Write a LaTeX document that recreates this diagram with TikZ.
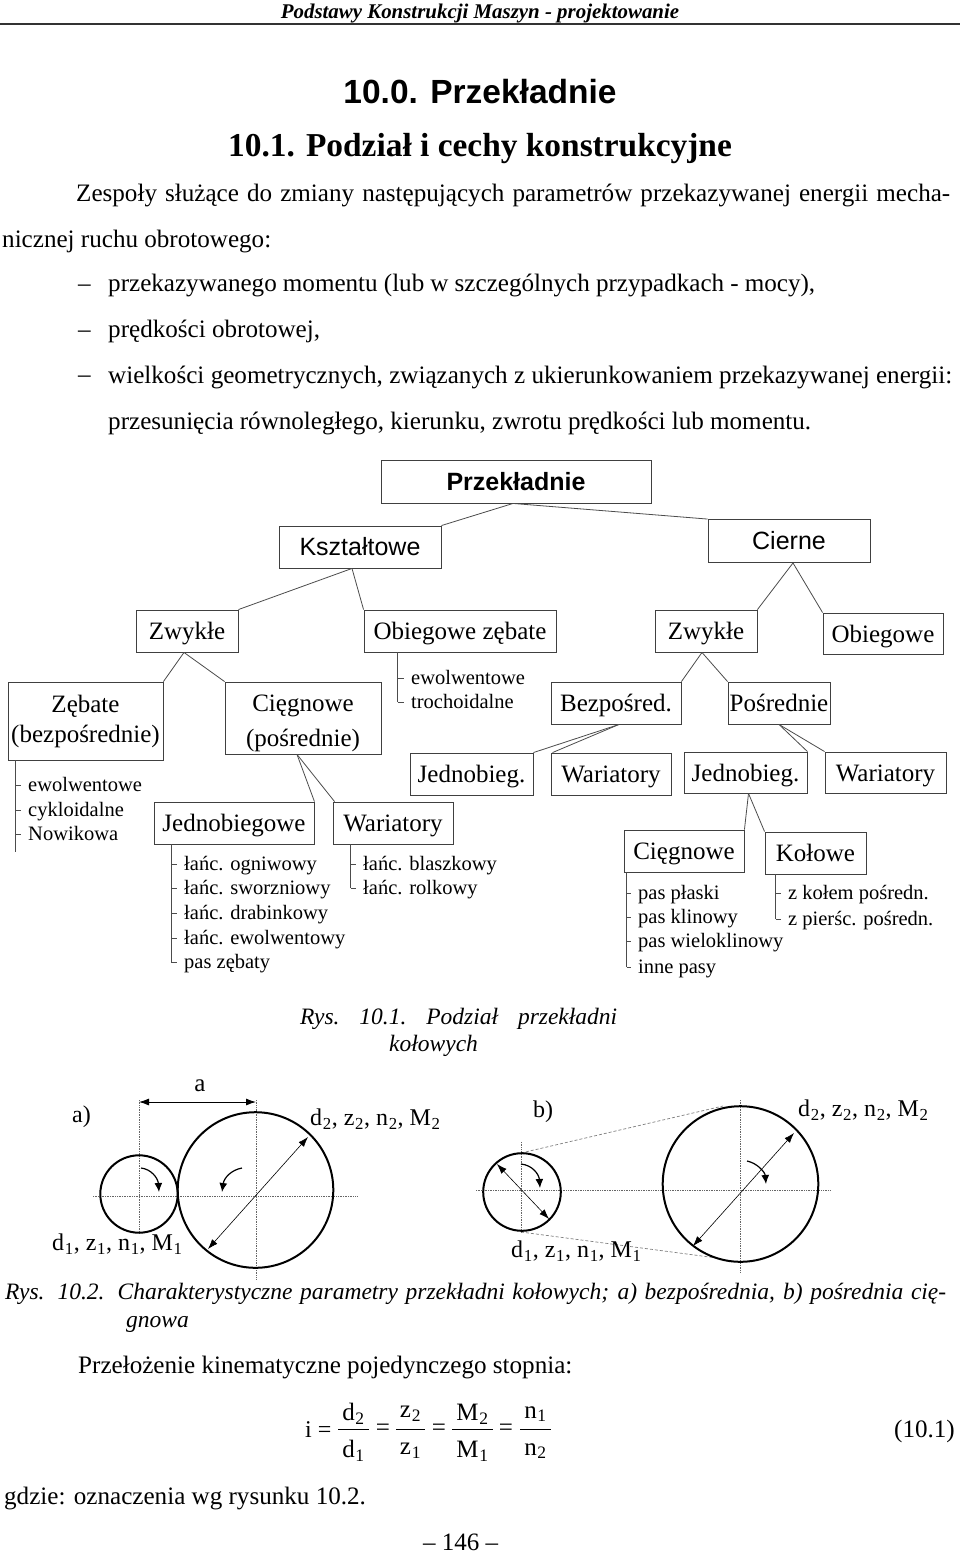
\documentclass[tikz,border=0pt]{standalone}
\usepackage{fontspec}
\setmainfont{Liberation Serif}
\newfontfamily\arialfont{Liberation Sans}
\usetikzlibrary{calc,positioning,arrows.meta}

\tikzset{
  boxnode/.style={draw=black!75,line width=0.9pt,inner sep=0pt,align=center,font=\fontsize{25}{30}\selectfont},
  rowbox/.style={boxnode,text height=21pt,text depth=4pt},
  sansnode/.style={boxnode,font=\arialfont\fontsize{25}{30}\selectfont},
  listitem/.style={inner sep=0pt,font=\fontsize{20.5}{24}\selectfont},
  bodyline/.style={inner sep=0pt,anchor=mid west,yshift=-5pt,font=\fontsize{25.1}{29}\selectfont},
  capline/.style={bodyline,font=\itshape\fontsize{23.5}{28}\selectfont},
  link/.style={draw=black!70,line width=0.8pt},
  wheel/.style={line width=2pt},
  axisline/.style={draw=black!60,line width=0.7pt,densely dotted},
  beltline/.style={draw=black!50,line width=0.7pt,densely dashed},
  sizeline/.style={line width=0.6pt,{Latex[length=10pt,width=7pt]}-{Latex[length=10pt,width=7pt]}},
  turnline/.style={line width=1.2pt,-{Latex[length=9pt,width=8pt]}},
  paramlabel/.style={inner sep=0pt,anchor=mid west,yshift=-5pt,font=\fontsize{24}{28}\selectfont},
  paramtext/.style={inner sep=0pt,font=\fontsize{25}{29}\selectfont}
}
% trunk and ticks below a box: box, offset, text x, end y, rows
\newcommand{\branch}[5]{
  \coordinate (#1top) at ([xshift=#2pt]#1.south west);
  \coordinate (#1end) at (#1top |- 0,#4);
  \draw[link] (#1top)--(#1end);
  \foreach \y/\lab [count=\i] in {#5}{
    \node[listitem,anchor=base west] (#1row\i) at ([yshift=-6.5pt]#3,\y) {\lab};
    \coordinate (#1tick\i) at ([xshift=-7pt,yshift=6.5pt]#1row\i.base west);
    \draw[link] (#1top |- #1tick\i)--(#1tick\i);
  }
}
\newcommand{\sbt}[1]{\kern0.7pt\textsubscript{#1}}

\begin{document}
\begin{tikzpicture}[x=1pt,y=-1pt,>=Latex]
  \useasboundingbox (0,0) rectangle (960,1553);
  \fill[white] (0,0) rectangle (960,1553);

  % page head
  \node[inner sep=0pt,font=\bfseries\itshape\fontsize{20.9}{24}\selectfont] (headline) at (480,14) {Podstawy Konstrukcji Maszyn - projektowanie};
  \coordinate (ruleleft) at (0,24);
  \coordinate (ruleright) at (960,24);
  \draw[line width=1.2pt,black!80] (ruleleft)--(ruleright);
  \node[inner sep=0pt,font=\arialfont\bfseries\fontsize{33.5}{38}\selectfont] (chapter) at (480,92) {10.0. Przekładnie};
  \node[inner sep=0pt,font=\bfseries\fontsize{33.4}{38}\selectfont] (section) at (480,149) {10.1. Podział i cechy konstrukcyjne};

  % text above the tree
  \node[bodyline] (par1) at (76,194) {\makebox[874pt][s]{Zespoły służące do zmiany następujących parametrów przekazywanej energii mecha-}};
  \node[bodyline] (par2) at (2,240) {nicznej ruchu obrotowego:};
  \foreach \y in {284,330,375}{
    \node[bodyline] (dash\y) at (78,\y) {–};
  }
  \node[bodyline] (item1) at (108,284) {\makebox[707pt][s]{przekazywanego momentu (lub w szczególnych przypadkach - mocy),}};
  \node[bodyline] (item2) at (108,330) {prędkości obrotowej,};
  \node[bodyline] (item3) at (108,376) {\makebox[844pt][s]{wielkości geometrycznych, związanych z ukierunkowaniem przekazywanej energii:}};
  \node[bodyline] (item4) at (108,422) {\makebox[703pt][s]{przesunięcia równoległego, kierunku, zwrotu prędkości lub momentu.}};

  % tree boxes
  \node[sansnode,font=\arialfont\bfseries\fontsize{25}{30}\selectfont,minimum width=270pt,minimum height=43pt] (przek) at (516,481.5) {Przekładnie};
  \node[sansnode,minimum width=162pt,minimum height=42pt] (ksztalt) at (360,547) {Kształtowe};
  \node[sansnode,minimum width=162pt,minimum height=43pt] (cierne) at (789,541) {Cierne};
  \node[rowbox,minimum width=102pt,minimum height=42pt] (zwyklel) at (187,631) {Zwykłe};
  \node[rowbox,minimum width=192pt,minimum height=42pt] (obiegzeb) at (460,631) {Obiegowe zębate};
  \node[rowbox,minimum width=102pt,minimum height=42pt] (zwykler) at (706,631) {Zwykłe};
  \node[rowbox,minimum width=120pt,minimum height=41pt] (obieg) at (883,633.5) {Obiegowe};
  \node[boxnode,minimum width=155pt,minimum height=78pt] (zebate) at (85.5,721) {Zębate\\(bezpośrednie)};
  \node[boxnode,font=\fontsize{25}{35}\selectfont,minimum width=156pt,minimum height=72pt] (ciegl) at (303,718) {\rule{0pt}{27pt}Cięgnowe\\(pośrednie)};
  \node[rowbox,minimum width=130pt,minimum height=42pt] (bezp) at (616,703) {Bezpośred.};
  \node[rowbox,minimum width=102pt,minimum height=42pt] (posr) at (779,703) {Pośrednie};
  \node[rowbox,minimum width=123pt,minimum height=42pt] (jedl) at (471.5,774) {Jednobieg.};
  \node[rowbox,minimum width=120pt,minimum height=42pt] (warm) at (611,774) {Wariatory};
  \node[rowbox,minimum width=123pt,minimum height=41pt] (jedr) at (745.5,772.5) {Jednobieg.};
  \node[rowbox,minimum width=121pt,minimum height=41pt] (warr) at (885.5,772.5) {Wariatory};
  \node[rowbox,minimum width=160pt,minimum height=42pt] (jedbg) at (234,823) {Jednobiegowe};
  \node[rowbox,minimum width=120pt,minimum height=42pt] (warl) at (393,823) {Wariatory};
  \node[rowbox,minimum width=120pt,minimum height=42pt] (ciegr) at (684,851) {Cięgnowe};
  \node[rowbox,minimum width=101pt,minimum height=42pt] (kol) at (815.5,853) {Kołowe};

  % tree links
  \draw[link] ([xshift=-3pt]przek.south)--(ksztalt.north east);
  \draw[link] ([xshift=-3pt]przek.south)--(cierne.north west);
  \draw[link] ([xshift=-8pt]ksztalt.south)--(zwyklel.north east);
  \draw[link] ([xshift=-8pt]ksztalt.south)--(obiegzeb.north west);
  \draw[link] ([xshift=4pt]cierne.south)--(zwykler.north east);
  \draw[link] ([xshift=4pt]cierne.south)--(obieg.north west);
  \draw[link] ([xshift=-3pt]zwyklel.south)--(zebate.north east);
  \draw[link] ([xshift=-3pt]zwyklel.south)--(ciegl.north west);
  \draw[link] ([xshift=-4pt]zwykler.south)--(bezp.north east);
  \draw[link] ([xshift=-4pt]zwykler.south)--(posr.north west);
  \draw[link] ([xshift=3pt]bezp.south)--(jedl.north east);
  \draw[link] ([xshift=3pt]bezp.south)--([xshift=2pt]warm.north west);
  \draw[link] (posr.south)--(jedr.north east);
  \draw[link] (posr.south)--(warr.north west);
  \draw[link] ([xshift=-6pt]ciegl.south)--(jedbg.north east);
  \draw[link] ([xshift=-6pt]ciegl.south)--([xshift=2pt]warl.north west);
  \draw[link] ([xshift=3pt]jedr.south)--(ciegr.north east);
  \draw[link] ([xshift=3pt]jedr.south)--(kol.north west);

  % lists under the boxes
  \branch{zebate}{7.5}{28}{852}{785/ewolwentowe,810/cykloidalne,834/Nowikowa}
  \branch{obiegzeb}{34}{411}{702}{678/ewolwentowe,702/trochoidalne}
  \branch{jedbg}{17.5}{184}{962}{864/łańc. ogniwowy,888/łańc. sworzniowy,913/łańc. drabinkowy,938/łańc. ewolwentowy,962/pas zębaty}
  \branch{warl}{18}{363}{888}{864/łańc. blaszkowy,888/łańc. rolkowy}
  \branch{ciegr}{3}{638}{967}{893/pas płaski,917/pas klinowy,941/pas wieloklinowy,967/inne pasy}
  \branch{kol}{11}{788}{919}{893/z kołem pośredn.,919/z pierśc. pośredn.}

  % caption of the tree
  \node[capline] (cap1) at (300,1017) {\makebox[317pt][s]{\spaceskip=23pt plus 5pt minus 5pt\frenchspacing Rys. 10.1. Podział przekładni}};
  \node[capline] (cap2) at (389,1044) {kołowych};

  % pair a)
  \node[paramlabel] (laba) at (72,1115) {a)};
  \coordinate (ca1) at (139,1194);
  \coordinate (ca2) at (255.5,1190);
  \draw[axisline] (93,1196)--(357,1196);
  \draw[axisline] (139,1100)--(139,1233);
  \draw[axisline] (256,1100)--(256,1280);
  \draw[wheel] (ca1) circle (38.7);
  \draw[wheel] (ca2) circle (77.8);
  \coordinate (dima1) at (139,1102);
  \coordinate (dima2) at (256,1102);
  \draw[sizeline,line width=0.9pt] (dima1)--(dima2);
  \node[paramtext] (laba2) at (200,1086) {a};
  \draw[sizeline] (308,1137)--(208,1249);
  \draw[turnline] (141,1168) .. controls (151,1169) and (158,1178) .. (159,1192);
  \draw[turnline] (242,1168) .. controls (231,1170) and (224,1178) .. (222,1192);
  \node[paramlabel] (para2) at (310,1118) {d\sbt{2}, z\sbt{2}, n\sbt{2}, M\sbt{2}};
  \node[paramlabel] (para1) at (52,1243) {d\sbt{1}, z\sbt{1}, n\sbt{1}, M\sbt{1}};

  % pair b)
  \node[paramlabel] (labb) at (533,1110) {b)};
  \coordinate (cb1) at (522,1192);
  \coordinate (cb2) at (740.5,1184);
  \draw[axisline] (476,1190)--(831,1190);
  \draw[axisline] (521,1142)--(521,1233);
  \draw[axisline] (740,1100)--(740,1273);
  \draw[beltline] (521,1153)--(723,1106);
  \draw[beltline] (521,1232)--(717,1258);
  \draw[wheel] (cb1) circle (38.8);
  \draw[wheel] (cb2) circle (77.8);
  \draw[sizeline] (497,1164)--(549,1219);
  \draw[sizeline] (794,1133)--(693,1246);
  \draw[turnline] (521,1164) .. controls (532,1165) and (539,1174) .. (540,1188);
  \draw[turnline] (747,1161) .. controls (757,1163) and (765,1172) .. (766,1184);
  \node[paramlabel] (parb2) at (798,1109) {d\sbt{2}, z\sbt{2}, n\sbt{2}, M\sbt{2}};
  \node[paramlabel] (parb1) at (511,1250) {d\sbt{1}, z\sbt{1}, n\sbt{1}, M\sbt{1}};

  % lower text
  \node[capline] (cap3) at (5,1292) {\makebox[941pt][s]{Rys. 10.2. Charakterystyczne parametry przekładni kołowych; a) bezpośrednia, b) pośrednia cię-}};
  \node[capline] (cap4) at (126,1320) {gnowa};
  \node[bodyline] (ratio) at (78,1366) {Przełożenie kinematyczne pojedynczego stopnia:};

  % equation
  \node[paramlabel] (eqi) at (305,1430) {i =};
  \foreach \x/\w/\up/\dn [count=\i] in {353.5/15.5/d\sbt{2}/d\sbt{1},410.5/14.5/z\sbt{2}/z\sbt{1},472.5/20.5/M\sbt{2}/M\sbt{1},535.5/15.5/n\sbt{1}/n\sbt{2}}{
    \coordinate (barl\i) at (\x-\w,1429);
    \coordinate (barr\i) at (\x+\w,1429);
    \draw[line width=0.8pt] (barl\i)--(barr\i);
    \node[paramtext] (num\i) at (\x,1414) {\up};
    \node[paramtext] (den\i) at (\x,1451) {\dn};
  }
  \foreach \x [count=\i] in {383,439,506}{
    \node[paramtext] (eq\i) at (\x,1430) {=};
  }
  \node[bodyline,anchor=mid east] (eqnum) at (955,1430) {(10.1)};
  \node[bodyline] (where) at (4,1497) {gdzie: oznaczenia wg rysunku 10.2.};
  \node[paramtext] (pageno) at (460.5,1542) {– 146 –};
\end{tikzpicture}
\end{document}
